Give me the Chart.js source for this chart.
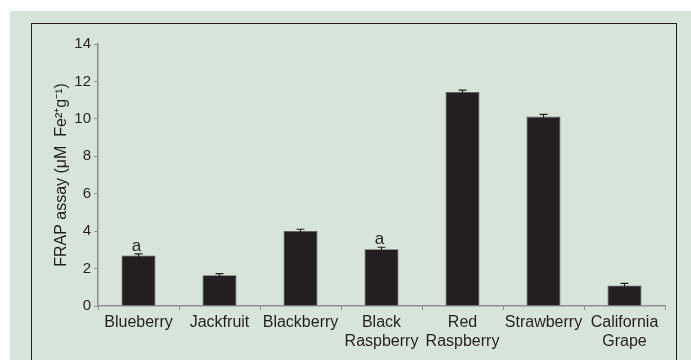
<!DOCTYPE html>
<html><head><meta charset="utf-8">
<script src="https://cdn.jsdelivr.net/npm/chart.js@4/dist/chart.umd.min.js"></script>
<style>
html,body{margin:0;padding:0;background:#fff;width:691px;height:360px;overflow:hidden;}
#bg{position:absolute;left:10px;top:11px;width:681px;height:349px;background:#d7e4da;}
#frame{position:absolute;left:31px;top:23px;width:644px;height:340px;border:1.5px solid #231f20;border-bottom:none;}
#wrap{position:absolute;left:0;top:0;width:691px;height:360px;}
</style></head>
<body>
<div id="bg"></div><div id="frame"></div>
<div id="wrap"><canvas id="c" width="691" height="360"></canvas></div>
<script>
const categories = ['Blueberry','Jackfruit','Blackberry',['Black','Raspberry'],['Red','Raspberry'],'Strawberry',['California','Grape']];
const values = [2.70, 1.64, 4.01, 3.03, 11.44, 10.12, 1.10];
const errors = [0.08, 0.09, 0.09, 0.11, 0.09, 0.12, 0.11];
const letters = ['a','','','a','','',''];
const yTicks = [0,2,4,6,8,10,12,14];

const ink = '#231f20';
const axisGrey = '#8e8e8e';
const fam = '"Liberation Sans", Arial, sans-serif';

const extras = {
  id:'extras',
  afterDatasetsDraw(chart){
    const ctx = chart.ctx, meta = chart.getDatasetMeta(0), y = chart.scales.y;
    ctx.save();
    ctx.strokeStyle = ink; ctx.lineWidth = 1.2;
    meta.data.forEach((bar,i)=>{
      const x = bar.x;
      const top = y.getPixelForValue(values[i]+errors[i]);
      const base = y.getPixelForValue(values[i]-errors[i]);
      ctx.beginPath();
      ctx.moveTo(x, base); ctx.lineTo(x, top);
      ctx.moveTo(x-4, top); ctx.lineTo(x+4, top);
      ctx.stroke();
      if (letters[i]) {
        ctx.fillStyle = ink;
        ctx.font = '17px ' + fam;
        ctx.textAlign = 'center'; ctx.textBaseline = 'alphabetic';
        ctx.fillText(letters[i], x - 2, top - 3);
      }
    });
    ctx.restore();
  }
};

new Chart(document.getElementById('c'), {
  type:'bar',
  data:{labels:categories, datasets:[{data:values, backgroundColor:ink, borderColor:'#5a5a5a', borderWidth:0.8, barPercentage:0.42, categoryPercentage:1}]},
  options:{
    responsive:false, animation:false,
    layout:{padding:{left:52, right:26, top:44, bottom:0}},
    plugins:{legend:{display:false}, tooltip:{enabled:false}},
    scales:{
      x:{
        grid:{display:true, drawOnChartArea:false, drawTicks:true, tickLength:4, color:axisGrey, offset:true},
        border:{display:true, color:axisGrey, width:1.5},
        ticks:{color:ink, font:{family:fam, size:16, lineHeight:1.2}, padding:3, maxRotation:0, autoSkip:false},
        afterFit(s){ s.height = 54; }
      },
      y:{
        min:0, max:14,
        afterBuildTicks(s){ s.ticks = yTicks.map(v=>({value:v})); },
        grid:{display:true, drawOnChartArea:false, drawTicks:true, tickLength:4, color:axisGrey},
        border:{display:true, color:axisGrey, width:1.5},
        ticks:{color:ink, font:{family:fam, size:15}, padding:3},
        title:{display:true, text:'FRAP assay (μM  Fe²⁺g⁻¹)', color:ink, font:{family:fam, size:16}, padding:{top:0,bottom:0}},
        afterFit(s){ s.width = 46; }
      }
    }
  },
  plugins:[extras]
});
</script>
</body></html>
